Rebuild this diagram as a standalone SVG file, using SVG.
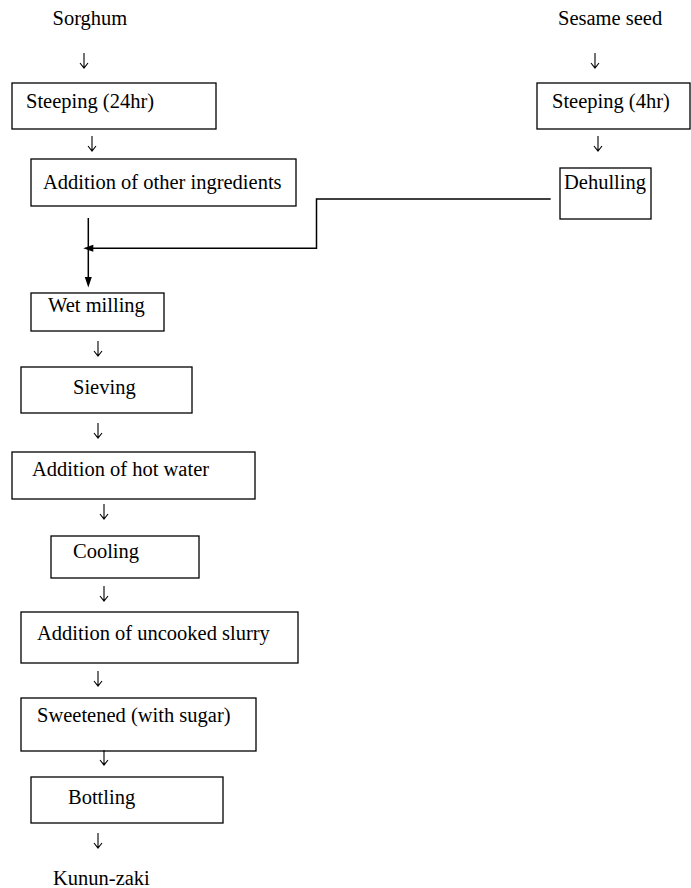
<svg xmlns="http://www.w3.org/2000/svg" width="691" height="888" viewBox="0 0 691 888">
<style>
  .box { fill: #fff; stroke: #000; stroke-width: 1.3; }
  .lbl { font-family: "Liberation Serif", "Times New Roman", serif; font-size: 20.5px; fill: #000; }
  .thin { fill: none; stroke: #000; stroke-width: 1.1; }
  .thick { fill: none; stroke: #000; stroke-width: 1.5; }
  .head { fill: #000; stroke: none; }
</style>
<defs>
  <path id="dn" d="M0,0 V15 M-4,10 L0,15 L4,10" />
</defs>
<rect width="691" height="888" fill="#fff"/>

<g id="sorghum"><text class="lbl" x="52.5" y="24.5">Sorghum</text></g>
<g id="sesame"><text class="lbl" x="558" y="24.5">Sesame seed</text></g>

<g id="steeping24"><rect class="box" x="12" y="83" width="204" height="46"/><text class="lbl" x="26" y="108">Steeping (24hr)</text></g>
<g id="steeping4"><rect class="box" x="537" y="83" width="153" height="46"/><text class="lbl" x="552" y="108">Steeping (4hr)</text></g>
<g id="addition-other"><rect class="box" x="31" y="159" width="265" height="47"/><text class="lbl" x="43" y="189">Addition of other ingredients</text></g>
<g id="dehulling"><rect class="box" x="560" y="168" width="91" height="51"/><text class="lbl" x="564" y="189">Dehulling</text></g>
<g id="wet-milling"><rect class="box" x="31" y="293" width="133" height="38"/><text class="lbl" x="48" y="312">Wet milling</text></g>
<g id="sieving"><rect class="box" x="21" y="367" width="171" height="46"/><text class="lbl" x="73" y="394">Sieving</text></g>
<g id="hot-water"><rect class="box" x="12" y="452" width="243" height="47"/><text class="lbl" x="32" y="476">Addition of hot water</text></g>
<g id="cooling"><rect class="box" x="51" y="536" width="148" height="42"/><text class="lbl" x="73" y="558">Cooling</text></g>
<g id="uncooked-slurry"><rect class="box" x="21" y="612" width="277" height="51"/><text class="lbl" x="37" y="640">Addition of uncooked slurry</text></g>
<g id="sweetened"><rect class="box" x="21" y="698" width="235" height="53"/><text class="lbl" x="37" y="722">Sweetened (with sugar)</text></g>
<g id="bottling"><rect class="box" x="31" y="777" width="192" height="46"/><text class="lbl" x="68" y="804">Bottling</text></g>
<g id="kunun-zaki"><text class="lbl" x="53" y="885">Kunun-zaki</text></g>

<g id="connectors">
  <use href="#dn" class="thin" x="84" y="53"/>
  <use href="#dn" class="thin" x="92" y="136"/>
  <use href="#dn" class="thin" x="595" y="53"/>
  <use href="#dn" class="thin" x="598" y="136"/>
  <use href="#dn" class="thin" x="98" y="341"/>
  <use href="#dn" class="thin" x="98" y="423"/>
  <use href="#dn" class="thin" x="104" y="504"/>
  <use href="#dn" class="thin" x="104" y="586"/>
  <use href="#dn" class="thin" x="98" y="671"/>
  <use href="#dn" class="thin" x="104" y="750"/>
  <use href="#dn" class="thin" x="98" y="833"/>

  <path class="thick" d="M88.3,218 V278"/>
  <polygon class="head" points="84.8,277 91.8,277 88.3,287.5"/>
  <path class="thick" d="M550.7,199 H316.5 V248.3 H92"/>
  <polygon class="head" points="83.3,248.3 93.3,244.8 93.3,251.8"/>
</g>
</svg>
